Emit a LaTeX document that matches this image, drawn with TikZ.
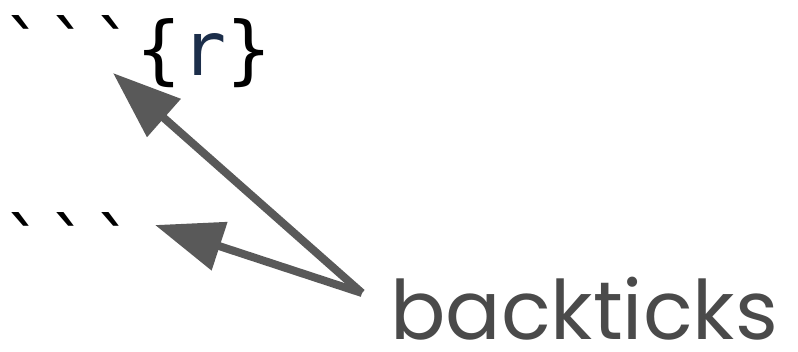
\documentclass[tikz,border=0pt]{standalone}
\usepackage{fontspec}
\setmonofont{DejaVu Sans Mono}
\newfontfamily\poppins{Poppins}
\usetikzlibrary{arrows.meta, positioning}
\definecolor{arrowgray}{HTML}{595959}
\definecolor{labelgray}{HTML}{4A4A4A}
\definecolor{rnavy}{HTML}{1C2E4A}
\tikzset{
  code/.style={inner sep=0pt, anchor=base west, font=\fontsize{75}{75}\selectfont\ttfamily},
  callout/.style={inner sep=0pt, anchor=base west, text=labelgray, font=\fontsize{82}{82}\selectfont\poppins},
  arrow/.style={-{Triangle[length=68pt, width=49pt]}, line width=8pt, draw=arrowgray, fill=arrowgray}
}
\begin{document}
\begin{tikzpicture}[x=1pt, y=-1pt]
  \useasboundingbox (0,0) rectangle (798,351);
  % Nodes
  \node[code] (open) at (1,75) {```\{\textcolor{rnavy}{r}\}};
  \node[code] (close) at (1,272) {```};
  \node[callout] (label) at (390,339) {backticks};
  \coordinate (src) at (362,293);
  \coordinate (opentip) at (113,73);
  \coordinate (closetip) at (155,225);

  % Connections
  \draw[arrow] (src) -- (opentip);
  \draw[arrow] (src) -- (closetip);
\end{tikzpicture}
\end{document}
